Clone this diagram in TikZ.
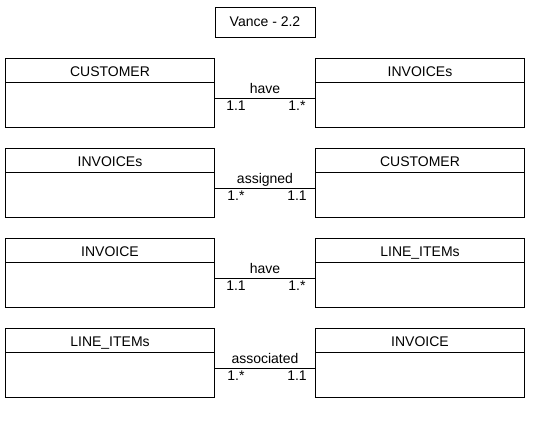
\documentclass[tikz,border=0pt]{standalone}
\usepackage{fontspec}
\setmainfont{Liberation Sans}
\begin{document}
\begin{tikzpicture}[x=0.75pt, y=-0.75pt, line width=0.75pt,
	font=\fontsize{10.5}{12}\selectfont,
	entity/.style={draw, anchor=north west, inner sep=0pt,
		minimum width=156.75pt, minimum height=51.75pt},
	mult/.style={anchor=base, yshift=-9pt}]

\useasboundingbox (0, 0) rectangle (549, 430);
\node[draw, minimum width=75pt, minimum height=22.5pt] (title) at (265, 22) {Vance - 2.2};

\foreach \t/\lname/\rname/\rel/\lmul/\rmul [count=\i] in {
	58/CUSTOMER/INVOICEs/have/1.1/1.*,
	148/INVOICEs/CUSTOMER/assigned/1.*/1.1,
	238/INVOICE/LINE\_ITEMs/have/1.1/1.*,
	328/LINE\_ITEMs/INVOICE/associated/1.*/1.1}
{
	\node[entity] (l\i) at (5, \t) {};
	\node[entity] (r\i) at (315, \t) {};
	\draw ([yshift=-18pt]l\i.north west) -- ([yshift=-18pt]l\i.north east);
	\draw ([yshift=-18pt]r\i.north west) -- ([yshift=-18pt]r\i.north east);
	\node[anchor=base] (ln\i) at ([yshift=-13.5pt]l\i.north) {\lname};
	\node[anchor=base] (rn\i) at ([yshift=-13.5pt]r\i.north) {\rname};
	\draw ([yshift=-4.125pt]l\i.east) -- ([yshift=-4.125pt]r\i.west)
		node[pos=0.5, anchor=base, yshift=3.5pt] {\rel}
		node[pos=0.21, mult] {\lmul}
		node[pos=0.82, mult] {\rmul};
}

\end{tikzpicture}
\end{document}
